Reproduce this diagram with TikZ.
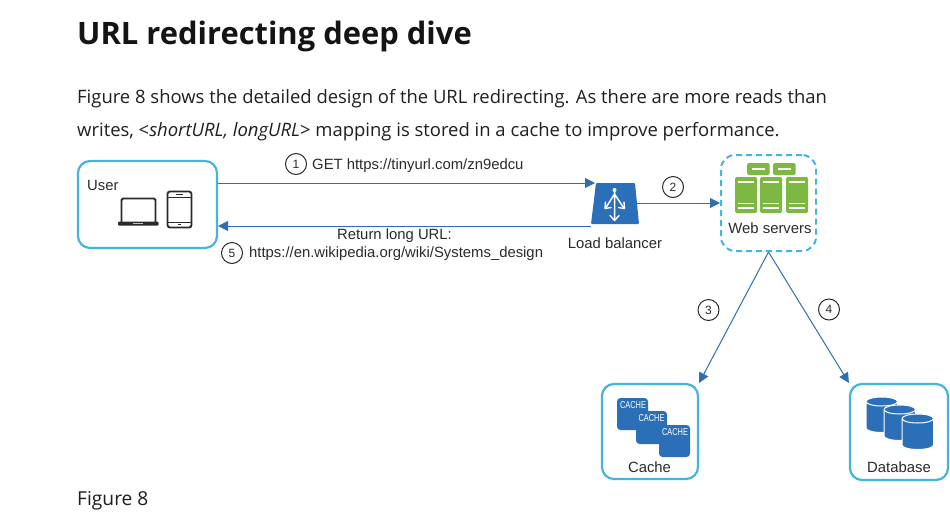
\documentclass[tikz,border=0pt]{standalone}
\usepackage{fontspec}
\usepackage{graphicx}
\setmainfont{Open Sans}
\newfontfamily\labelfont{Liberation Sans}
\usetikzlibrary{arrows.meta,calc}
\definecolor{boxblue}{HTML}{45B5DC}
\definecolor{linkblue}{HTML}{2F6FB0}
\definecolor{fillblue}{HTML}{2B6FB8}
\definecolor{srvgreen}{HTML}{7DB843}
\definecolor{inkdark}{HTML}{2A2A2A}
\tikzset{
  x=1pt,y=-1pt,
  heading/.style={anchor=base west,inner sep=0pt,font=\fontsize{30.9}{36}\selectfont\bfseries,text=black!92},
  bodytext/.style={anchor=base west,inner sep=0pt,font=\fontsize{18.45}{22}\selectfont,text=black!88},
  captext/.style={anchor=base west,inner sep=0pt,font=\fontsize{19.2}{22}\selectfont,text=black!88},
  lab/.style={inner sep=0pt,font=\labelfont\fontsize{14.85}{17}\selectfont,text=inkdark},
  roundbox/.style={draw=boxblue,line width=2.2pt,rounded corners=12pt,inner sep=0pt,fill=white},
  dashbox/.style={draw=boxblue,line width=2pt,rounded corners=14pt,inner sep=0pt,dash pattern=on 6pt off 4pt},
  link/.style={draw=linkblue,line width=1pt,-{Triangle[length=10pt,width=10pt,fill=linkblue]}},
  num/.style={circle,draw=inkdark,line width=1pt,minimum size=21pt,inner sep=0pt,font=\labelfont\fontsize{12}{13}\selectfont,text=inkdark,fill=white},
  phantombox/.style={inner sep=0pt,outer sep=0pt},
  cachecard/.style={fill=fillblue,rounded corners=3.5pt,draw=none},
  cachetext/.style={inner sep=0pt,text=white,font=\labelfont\fontsize{10}{11}\selectfont},
  srv/.style={fill=srvgreen,rounded corners=1.5pt,draw=none},
  srvline/.style={draw=white,line width=1.2pt},
  dev/.style={draw=inkdark,line width=1.8pt,rounded corners=1.5pt},
  cyl/.style={fill=fillblue,draw=white,line width=1pt},
}
\begin{document}
\begin{tikzpicture}
\useasboundingbox (0,0) rectangle (950,520);
\fill[white] (0,0) rectangle (950,520);

% page text
\node[heading] (title) at (77,44) {URL redirecting deep dive};
\node[bodytext] (line1) at (77,103) {Figure 8 shows the detailed design of the URL redirecting. As there are more reads than};
\node[bodytext] (line2) at (77,136) {writes, <\textit{shortURL, longURL}> mapping is stored in a cache to improve performance.};
\node[captext] (figcap) at (77,505) {Figure 8};

% boxes
\node[roundbox,minimum width=139pt,minimum height=87pt] (user) at (147.5,204.5) {};
\node[dashbox,minimum width=95pt,minimum height=96pt] (web) at (768.5,203) {};
\node[roundbox,minimum width=96pt,minimum height=95pt] (cache) at (650,431.5) {};
\node[roundbox,minimum width=98pt,minimum height=96pt] (db) at (899,432) {};
\node[phantombox,minimum width=48pt,minimum height=42pt] (lb) at (615,203) {};

% user content
\node[lab,anchor=base west] (userlab) at (87,190.5) {User};
\draw[dev] (121.5,222) -- (121.5,198.5) -- (155.5,198.5) -- (155.5,222);
\fill[inkdark,rounded corners=1pt] (118,221.5) rectangle (158.5,225.5);
\fill[white!70!inkdark] (133,222.6) rectangle (143,224.2);
\draw[dev,rounded corners=2.5pt] (167.5,191.5) rectangle (191.5,227.5);
\draw[inkdark,line width=1pt] (167.5,197) -- (191.5,197) (167.5,222) -- (191.5,222);
\draw[inkdark,line width=1.2pt] (176,194.2) -- (183,194.2) (178,224.8) -- (181,224.8);

% load balancer
\fill[fillblue,rounded corners=1pt] (596,183) -- (635,183) -- (639,224) -- (591,224) -- cycle;
\fill[white] (614.5,190) circle (2pt);
\draw[white,line width=1.5pt,line cap=round] (614.5,190) -- (614.5,220)
  (614.5,194) -- (606,207.5) (614.5,194) -- (623.5,207.5);
\draw[white,line width=1.4pt,line cap=round,line join=round]
  (610,215.5) -- (614.5,220.5) -- (619,215.5)
  (605.5,202) -- (605,208.5) -- (611,207.5)
  (624,202) -- (624.5,208.5) -- (618.5,207.5);
\node[lab,anchor=base] (lblab) at (615,248) {Load balancer};

% web servers content
\foreach \x in {747,773}{
  \fill[srv] (\x,163) rectangle ++(22.5,12);
  \draw[srvline] (\x+5,169) -- ++(12.5,0);
}
\foreach \x in {735,760,786}{
  \fill[srv] (\x,177) rectangle ++(22,36);
  \draw[srvline] (\x+3,182) -- ++(16,0);
  \draw[srvline] (\x+3,203.5) -- ++(16,0);
  \draw[srvline] (\x+3,208) -- ++(16,0);
}
\node[lab,anchor=base] (weblab) at (770,233) {Web servers};

% cache content
\foreach \x/\y/\w/\h in {617/398/31/32,636/411/31/33,659/425/31/32}{
  \fill[cachecard] (\x,\y) rectangle ++(\w,\h);
}
\node[cachetext] (c1) at (633,405) {\scalebox{0.74}[1]{CACHE}};
\node[cachetext] (c2) at (651.5,418) {\scalebox{0.74}[1]{CACHE}};
\node[cachetext] (c3) at (675,432) {\scalebox{0.74}[1]{CACHE}};
\node[lab,anchor=base] (cachelab) at (649.5,472) {Cache};

% database content
\foreach \x/\y in {866/397,884/405,902/414}{
  \fill[cyl] (\x,\y+4.5) arc[start angle=180,end angle=360,x radius=15.75,y radius=4.5]
     -- ++(0,26.5) arc[start angle=0,end angle=180,x radius=15.75,y radius=4.5] -- cycle;
  \draw[cyl,fill=none,line width=1pt] (\x,\y+4.5) arc[start angle=180,end angle=0,x radius=15.75,y radius=4.5];
}
\node[lab,anchor=base] (dblab) at (899,472) {Database};

% connectors
\coordinate (userout) at ([yshift=21.5pt]user.east);
\coordinate (userin) at ([yshift=-21.5pt]user.east);
\coordinate (lbin) at ($(lb.west)+(4,0)$);
\coordinate (lbout) at ($(lb.east)+(-2,0)$);
\draw[link] (userout) -- (userout -| lbin);
\draw[link] (userin -| lb.west) -- (userin);
\draw[link] (lbout) -- (web.west);
\draw[link] (web.south) -- (cache.north east);
\draw[link] (web.south) -- (db.north west);

% numbered markers and labels
\node[num] (n1) at (296,164) {1};
\node[num] (n2) at (673,187) {2};
\node[num] (n3) at (708.5,310) {3};
\node[num] (n4) at (829,309.5) {4};
\node[num] (n5) at (232,253) {5};
\node[lab,anchor=base west] (getlab) at (312,169) {GET https://tinyurl.com/zn9edcu};
\node[lab,anchor=base] (retlab) at (394.5,239) {Return long URL:};
\node[lab,anchor=base west] (urllab) at (249,257) {https://en.wikipedia.org/wiki/Systems\_design};
\end{tikzpicture}
\end{document}
